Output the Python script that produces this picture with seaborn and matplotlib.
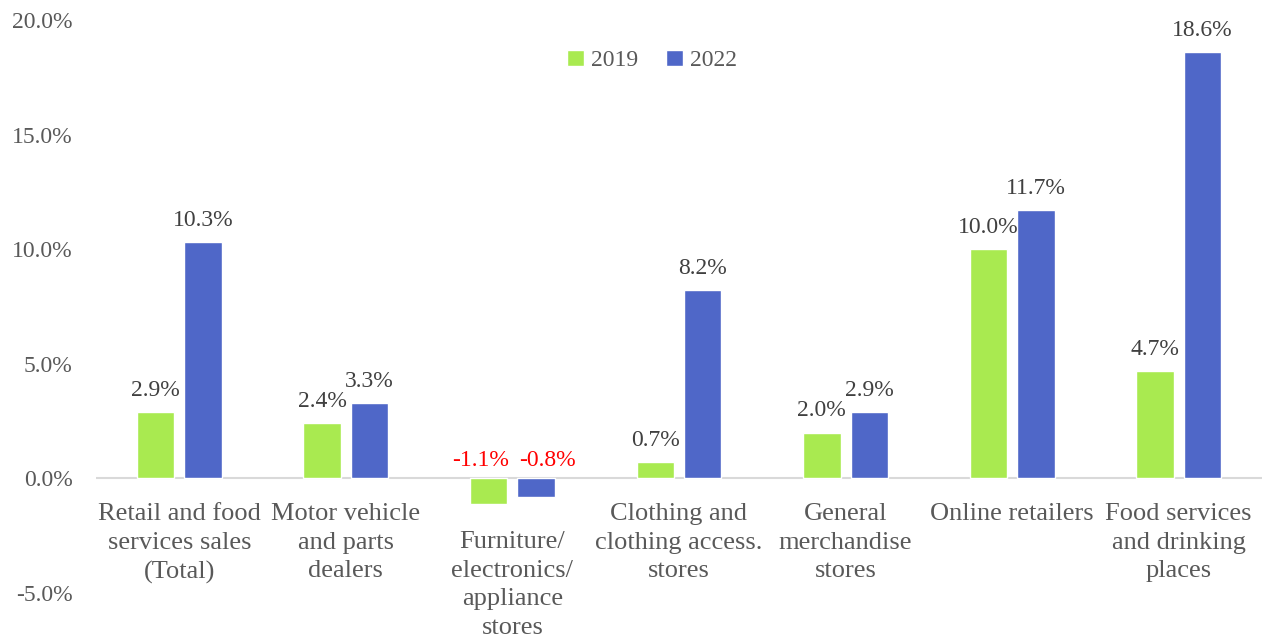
import pandas as pd
import matplotlib
matplotlib.use('Agg')
import matplotlib.pyplot as plt
import seaborn as sns

# data
categories = ['Retail and food\nservices sales\n(Total)',
              'Motor vehicle\nand parts\ndealers',
              'Furniture/\nelectronics/\nappliance\nstores',
              'Clothing and\nclothing access.\nstores',
              'General\nmerchandise\nstores',
              'Online retailers',
              'Food services\nand drinking\nplaces']
years = ['2019', '2022']
growth_2019 = [2.9, 2.4, -1.1, 0.7, 2.0, 10.0, 4.7]
growth_2022 = [10.3, 3.3, -0.8, 8.2, 2.9, 11.7, 18.6]
y_ticks = [-5, 0, 5, 10, 15, 20]

df = pd.DataFrame({
    'category': categories * 2,
    'year': [years[0]] * len(categories) + [years[1]] * len(categories),
    'value': growth_2019 + growth_2022,
})

sns.set_style('white')
plt.rcParams['font.family'] = ['Liberation Serif', 'DejaVu Serif']

text_grey = '#595959'
colors = {'2019': '#A9EA50', '2022': '#4F67C8'}

fig = plt.figure(figsize=(12.65, 6.4), dpi=100)
ax = fig.add_axes([96 / 1265, 47 / 640, 1166 / 1265, 573 / 640])

sns.barplot(data=df, x='category', y='value', hue='year', palette=colors,
            width=0.57, gap=0.21, saturation=1, ax=ax, order=categories)

ax.set_ylim(-5, 20)
ax.set_xlim(-0.5, len(categories) - 0.5)
ax.set_yticks(y_ticks)
ax.set_yticklabels([f'{t:.1f}%' for t in y_ticks], fontsize=17, color=text_grey)
ax.tick_params(axis='y', length=0, pad=17)
ax.set_xticks([])
ax.set_xlabel('')
ax.set_ylabel('')
for s in ax.spines.values():
    s.set_visible(False)
ax.axhline(0, color='#D9D9D9', lw=1.5, zorder=0)

# category labels below the zero line (pushed below the negative bars)
low = [min(a, b) for a, b in zip(growth_2019, growth_2022)]
for i, lab in enumerate(categories):
    off = -18 if low[i] >= 0 else -38
    ax.annotate(lab, xy=(i, 0), xytext=(0, off), textcoords='offset points',
                ha='center', va='top', fontsize=19, color=text_grey,
                linespacing=1.38)

# data labels
for k, cont in enumerate(ax.containers):
    for bar in cont:
        v = bar.get_height()
        x = bar.get_x() + bar.get_width() / 2
        if v >= 0:
            ax.annotate(f'{v:.1f}%', xy=(x, v), xytext=(0, 8), textcoords='offset points',
                        ha='center', va='bottom', fontsize=17, color='#404040')
        else:
            dx = -6 if k == 0 else 8
            ax.annotate(f'{v:.1f}%', xy=(x, 0), xytext=(dx, 5), textcoords='offset points',
                        ha='center', va='bottom', fontsize=17, color='#FF0000')

leg = ax.legend(loc='upper center', bbox_to_anchor=(0.477, 0.985), ncol=2, frameon=False,
                fontsize=17, handlelength=0.7, handleheight=0.7, handletextpad=0.3,
                columnspacing=1.2)
for t in leg.get_texts():
    t.set_color(text_grey)

fig.savefig('out.png', dpi=100)
